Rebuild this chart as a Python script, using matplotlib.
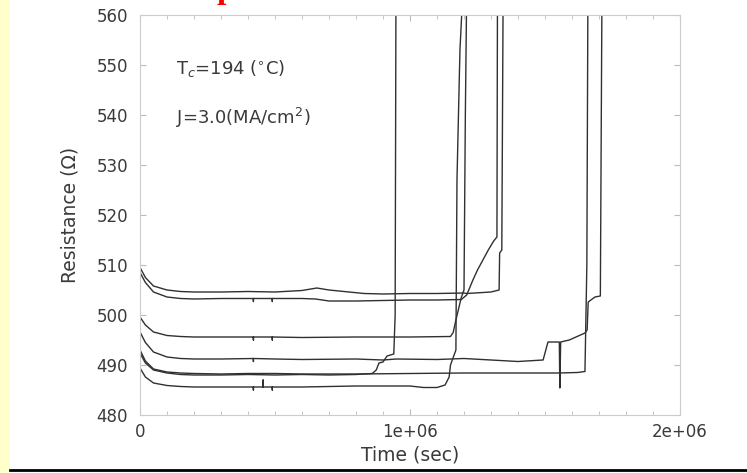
import matplotlib
matplotlib.use("Agg")
import matplotlib.pyplot as plt
from matplotlib.lines import Line2D
from matplotlib.patches import Rectangle
from matplotlib.ticker import MultipleLocator

# time in units of 1e6 s, resistance in ohm
t_1 = [0, 0.02, 0.05, 0.1, 0.15, 0.2, 0.3, 0.4, 0.5, 0.6, 0.655, 0.7, 0.83, 0.9, 1.0, 1.1, 1.2, 1.21,
       1.3, 1.33, 1.332, 1.34, 1.345]
r_1 = [509.5, 507.5, 505.8, 505.0, 504.7, 504.6, 504.6, 504.7, 504.6, 504.9, 505.4, 505.0, 504.3, 504.2,
       504.3, 504.3, 504.4, 504.3, 504.6, 505.0, 512.4, 513.0, 565]

t_2 = [0, 0.02, 0.05, 0.1, 0.15, 0.2, 0.3, 0.42, 0.42, 0.42, 0.49, 0.49, 0.49, 0.6, 0.65, 0.7, 0.8, 0.9,
       1.0, 1.1, 1.19, 1.21, 1.233, 1.25, 1.27, 1.29, 1.31, 1.322, 1.324]
r_2 = [508.5, 506.5, 504.6, 503.6, 503.3, 503.2, 503.3, 503.3, 502.7, 503.3, 503.3, 502.7, 503.3, 503.3,
       503.2, 502.8, 502.8, 502.9, 503.0, 503.0, 503.1, 504.0, 507.0, 509.0, 511.0, 513.0, 514.8, 515.6, 565]

t_3 = [0, 0.02, 0.05, 0.1, 0.15, 0.2, 0.3, 0.42, 0.42, 0.42, 0.49, 0.49, 0.49, 0.6, 0.8, 1.0, 1.15,
       1.16, 1.17, 1.19, 1.2, 1.205, 1.21]
r_3 = [499.6, 498.0, 496.6, 495.9, 495.7, 495.6, 495.6, 495.6, 495.0, 495.6, 495.6, 495.0, 495.6, 495.5,
       495.6, 495.6, 495.7, 496.5, 499.0, 503.5, 505.0, 540.0, 565]

t_4 = [0, 0.02, 0.05, 0.1, 0.15, 0.2, 0.3, 0.42, 0.42, 0.42, 0.5, 0.6, 0.8, 0.9, 0.95, 1.1, 1.2,
       1.3, 1.4, 1.493, 1.511, 1.553, 1.555, 1.558, 1.59, 1.648, 1.656, 1.66, 1.685, 1.705, 1.711]
r_4 = [496.6, 494.5, 492.6, 491.6, 491.3, 491.2, 491.2, 491.3, 490.7, 491.3, 491.2, 491.1, 491.2, 491.0,
       491.2, 491.1, 491.3, 491.0, 490.7, 491.0, 494.6, 494.6, 485.4, 494.6, 495.0, 496.4, 497.0, 502.6,
       503.6, 503.8, 565]

t_5 = [0, 0.02, 0.05, 0.1, 0.15, 0.2, 0.3, 0.4, 0.5, 0.6, 0.8, 1.0, 1.2, 1.4, 1.55, 1.62, 1.648,
       1.655, 1.659]
r_5 = [493.0, 490.8, 489.2, 488.6, 488.4, 488.3, 488.2, 488.3, 488.3, 488.2, 488.2, 488.3, 488.4,
       488.4, 488.4, 488.5, 488.7, 510.0, 565]

t_a = [0, 0.02, 0.05, 0.1, 0.15, 0.2, 0.3, 0.4, 0.5, 0.6, 0.7, 0.8, 0.86, 0.875, 0.885, 0.9,
       0.915, 0.94, 0.945, 0.948]
r_a = [492.4, 490.4, 489.0, 488.4, 488.1, 488.0, 488.0, 488.1, 488.0, 488.1, 488.0, 488.1, 488.3,
       489.0, 490.4, 490.6, 491.8, 492.2, 500.0, 565]

t_6 = [0, 0.02, 0.05, 0.1, 0.15, 0.2, 0.3, 0.42, 0.42, 0.42, 0.456, 0.456, 0.456, 0.49, 0.49, 0.49,
       0.6, 0.8, 1.0, 1.05, 1.1, 1.13, 1.145, 1.15, 1.17, 1.174, 1.185, 1.196]
r_6 = [489.4, 487.6, 486.4, 485.9, 485.7, 485.6, 485.6, 485.6, 485.0, 485.6, 485.6, 487.0, 485.6,
       485.6, 485.0, 485.6, 485.6, 485.8, 485.8, 485.5, 485.5, 486.0, 487.6, 490.0, 493.0, 527.0,
       553.0, 565]

curves = [(t_1, r_1), (t_2, r_2), (t_3, r_3), (t_4, r_4), (t_5, r_5), (t_a, r_a), (t_6, r_6)]

plt.rcParams['font.family'] = ['DejaVu Sans']
fig = plt.figure(figsize=(7.47, 4.73), dpi=100)
fig.patch.set_facecolor('white')

fig.patches.append(Rectangle((0, 0), 10 / 747, 1, transform=fig.transFigure,
                             facecolor='#ffffcc', edgecolor='none', zorder=0))
fig.add_artist(Line2D([10 / 747, 1], [1 - 470 / 473, 1 - 470 / 473], color='black', lw=2))
fig.text(226 / 747, 1 + 2 / 473, 'p', color='red', fontsize=24, family='Liberation Serif',
         weight='bold', ha='center', va='baseline')

ax = fig.add_axes([140 / 747, 1 - 415 / 473, 540 / 747, 400 / 473])
for t, r in curves:
    ax.plot([v * 1e6 for v in t], r, color='#303030', lw=1.0)

ax.set_xlim(0, 2e6)
ax.set_ylim(480, 560)
ax.set_xticks([0, 1e6, 2e6])
ax.set_xticklabels(['0', '1e+06', '2e+06'])
ax.xaxis.set_minor_locator(MultipleLocator(1e5))
ax.yaxis.set_major_locator(MultipleLocator(10))
ax.tick_params(which='both', direction='in', top=True, right=True, color='#bbbbbb',
               labelsize=12, labelcolor='#3a3a3a')
ax.tick_params(axis='y', which='major', length=4, pad=8.5)
ax.tick_params(axis='x', which='major', length=4, pad=6)
ax.tick_params(which='minor', length=3)
for s in ax.spines.values():
    s.set_color('#cccccc')
    s.set_linewidth(0.8)

ax.set_xlabel('Time (sec)', fontsize=13.5, color='#3a3a3a', labelpad=3)
ax.set_ylabel('Resistance (\u03a9)', fontsize=13.5, color='#3a3a3a', labelpad=12)

ax.text(0.135e6, 549.4, r'T$_c$=194 ($^{\circ}$C)', fontsize=13, color='#3a3a3a', va='center')
ax.text(0.135e6, 539.4, r'J=3.0(MA/cm$^2$)', fontsize=13, color='#3a3a3a', va='center')

fig.savefig('out.png', dpi=100)
